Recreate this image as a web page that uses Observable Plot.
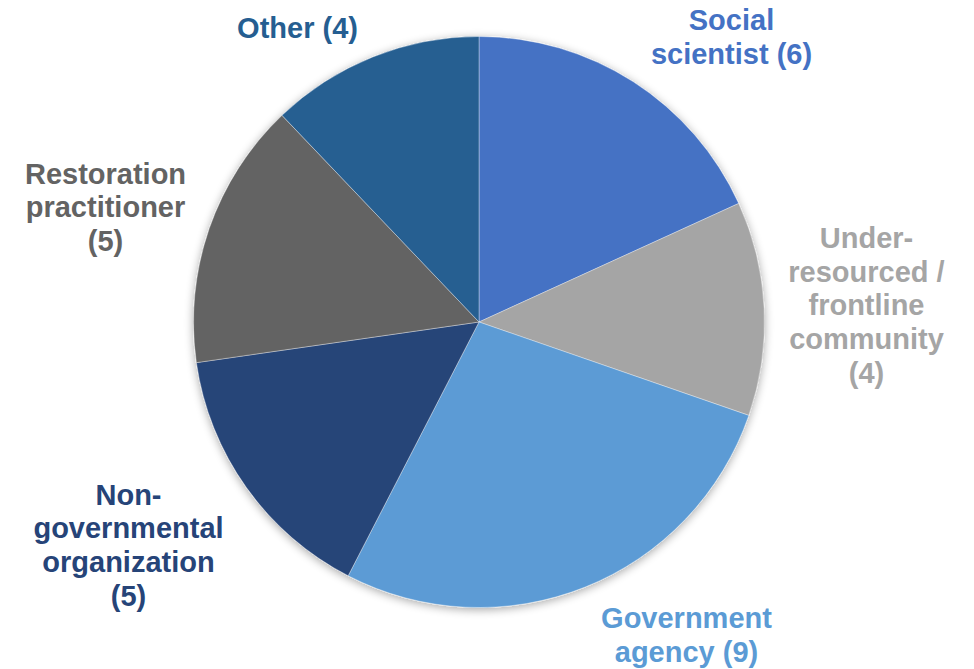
<!DOCTYPE html>
<html><head><meta charset="utf-8">
<script src="https://cdn.jsdelivr.net/npm/d3@7"></script>
<script src="https://cdn.jsdelivr.net/npm/@observablehq/plot@0.6"></script>
<style>html,body{margin:0;padding:0;background:#fff;overflow:hidden}</style>
</head><body><div id="chart"></div>
<script>
// ---- data ----
const categories = ["Social scientist", "Under-resourced / frontline community", "Government agency", "Non-governmental organization", "Restoration practitioner", "Other"];
const counts = [6, 4, 9, 5, 5, 4];
const labelTemplates = ["Social\nscientist (#)", "Under-\nresourced /\nfrontline\ncommunity\n(#)", "Government\nagency (#)", "Non-\ngovernmental\norganization\n(#)", "Restoration\npractitioner\n(#)", "Other (#)"];
const colors = ["#4472C4", "#A5A5A5", "#5B9BD5", "#264478", "#636363", "#255E91"];

// ---- layout ----
const W = 974, H = 669, CX = 479, CY = 322, R = 285.5;
const labelPos = [[731, 36], [866, 304], [686, 634], [128, 544], [105, 206], [297, 27]];

const data = categories.map((c, i) => ({
  category: c,
  count: counts[i],
  label: labelTemplates[i].replace("#", counts[i]),
  lx: labelPos[i][0],
  ly: labelPos[i][1]
}));

const pie = d3.pie().sort(null).value(d => d.count)(data);

function pieMark(index, scales, values, dims) {
  const g = d3.create("svg:g");
  const defs = g.append("defs");
  const f = defs.append("filter").attr("id", "pieShadow")
    .attr("x", "-10%").attr("y", "-10%").attr("width", "120%").attr("height", "120%");
  f.append("feGaussianBlur").attr("in", "SourceAlpha").attr("stdDeviation", 5).attr("result", "b");
  f.append("feOffset").attr("in", "b").attr("dx", 0).attr("dy", 2).attr("result", "o");
  f.append("feComponentTransfer").attr("in", "o").attr("result", "s")
    .append("feFuncA").attr("type", "linear").attr("slope", 0.35);
  const m = f.append("feMerge");
  m.append("feMergeNode").attr("in", "s");
  m.append("feMergeNode").attr("in", "SourceGraphic");

  const cx = scales.x(CX), cy = scales.y(CY);
  const r = scales.x(CX + R) - cx;
  const arc = d3.arc().innerRadius(0).outerRadius(r);
  const gp = g.append("g").attr("transform", `translate(${cx},${cy})`).attr("filter", "url(#pieShadow)");
  gp.selectAll("path").data(pie).join("path")
    .attr("d", arc)
    .attr("fill", d => scales.color(d.data.category))
    .attr("stroke", "rgba(255,255,255,0.45)")
    .attr("stroke-width", 0.8)
    .attr("stroke-linejoin", "round");
  return g.node();
}

const chart = Plot.plot({
  width: W,
  height: H,
  margin: 0,
  x: {domain: [0, W], range: [0, W], axis: null},
  y: {domain: [0, H], range: [0, H], axis: null},
  color: {domain: categories, range: colors},
  style: {background: "#fff"},
  marks: [
    pieMark,
    Plot.text(data, {
      x: "lx", y: "ly", text: "label", fill: "category",
      fontSize: 29, fontWeight: "bold",
      fontFamily: "'Liberation Sans', Arial, sans-serif",
      lineHeight: 1.16, textAnchor: "middle", lineAnchor: "middle"
    })
  ]
});
document.getElementById("chart").appendChild(chart);
</script>
</body></html>
